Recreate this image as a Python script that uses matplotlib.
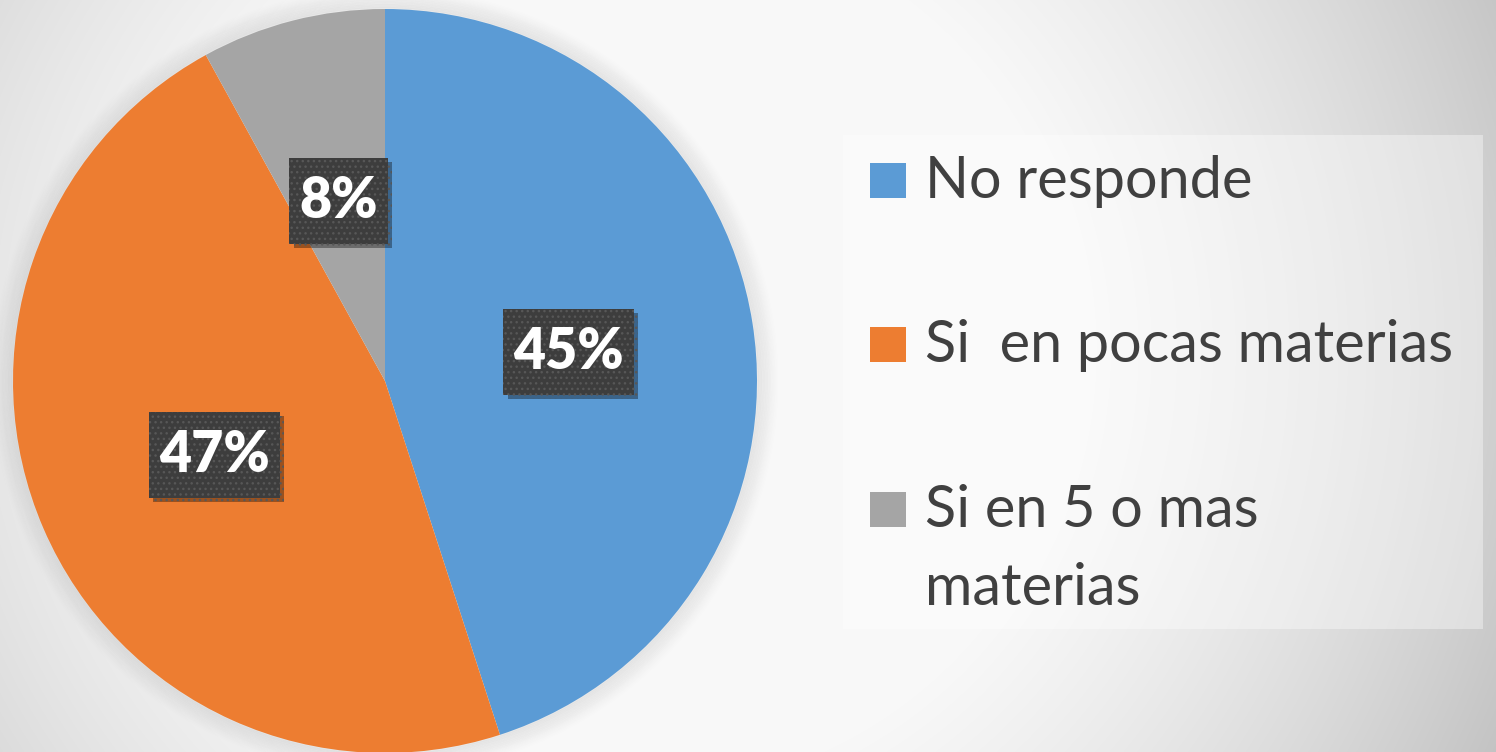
import matplotlib
matplotlib.use("Agg")
import matplotlib.pyplot as plt
import matplotlib.patheffects as pe
from matplotlib.patches import Rectangle, Circle
import numpy as np

## DATI ##
categorie = ["No responde", "Si  en pocas materias", "Si en 5 o mas\nmaterias"]
valori = [45, 47, 8]
colori = ["#5B9BD5", "#ED7D31", "#A5A5A5"]

W, H = 1496, 752
fig = plt.figure(figsize=(W/100, H/100), dpi=100)

# sfondo con gradiente radiale
bg = fig.add_axes([0, 0, 1, 1])
yy, xx = np.mgrid[0:H, 0:W]
d = np.sqrt((xx - 640)**2 + (yy - 350)**2)
val = np.clip(1.03 - 2.95e-7*d**2, 0.75, 0.975)
bg.imshow(np.dstack([val, val, val]), extent=[0, W, H, 0], aspect='auto')
bg.set_xlim(0, W)
bg.set_ylim(H, 0)
bg.axis('off')

# torta
cx, cy, r = 385, 381, 372
ax = fig.add_axes([(cx - r)/W, (H - cy - r)/H, 2*r/W, 2*r/H])
ax.patch.set_alpha(0)

# ombra morbida attorno alla torta
for i in range(14):
    ax.add_patch(Circle((0, 0), 1.0 + i*0.004, facecolor='none', edgecolor='#808080',
                        linewidth=3, alpha=0.06*(1 - i/14), clip_on=False, zorder=0))

wedges, testi, autotesti = ax.pie(valori, colors=colori, startangle=90, counterclock=False,
                                  autopct='%1.0f%%', pctdistance=0.5, radius=1.0,
                                  wedgeprops=dict(linewidth=0),
                                  textprops=dict(color='white', fontsize=40, fontweight='heavy',
                                                 family=['Lato', 'DejaVu Sans']))
for w in wedges:
    w.set_zorder(2)
for t in autotesti:
    t.set_zorder(5)
    t.set_bbox(dict(boxstyle='square,pad=0.18', facecolor='#3d3d3d', edgecolor='#575757',
                    linewidth=0, hatch='...', mutation_aspect=1.7))
    t.get_bbox_patch().set_path_effects([pe.withSimplePatchShadow(offset=(3, -3), shadow_rgbFace='black', alpha=0.35)])
ax.set_xlim(-1, 1)
ax.set_ylim(-1, 1)
ax.axis('off')

# legenda
fig.patches.append(Rectangle((843/W, 1 - 629/H), (1483 - 843)/W, (629 - 135)/H,
                             transform=fig.transFigure, facecolor='white', alpha=0.38,
                             edgecolor='none', zorder=1))
top_marker = [163, 327, 492]
base_testo = [198, 362, 527]
for i, lab in enumerate(categorie):
    fig.patches.append(Rectangle((870/W, 1 - (top_marker[i] + 35)/H), 36/W, 35/H,
                                 transform=fig.transFigure, facecolor=colori[i],
                                 edgecolor='none', zorder=2))
    for j, riga in enumerate(lab.split('\n')):
        fig.text(925/W, 1 - (base_testo[i] + j*78)/H, riga, fontsize=41.5, color='#404040',
                 family=['Lato', 'DejaVu Sans'], va='baseline', ha='left')

fig.savefig("out.png", dpi=100)
